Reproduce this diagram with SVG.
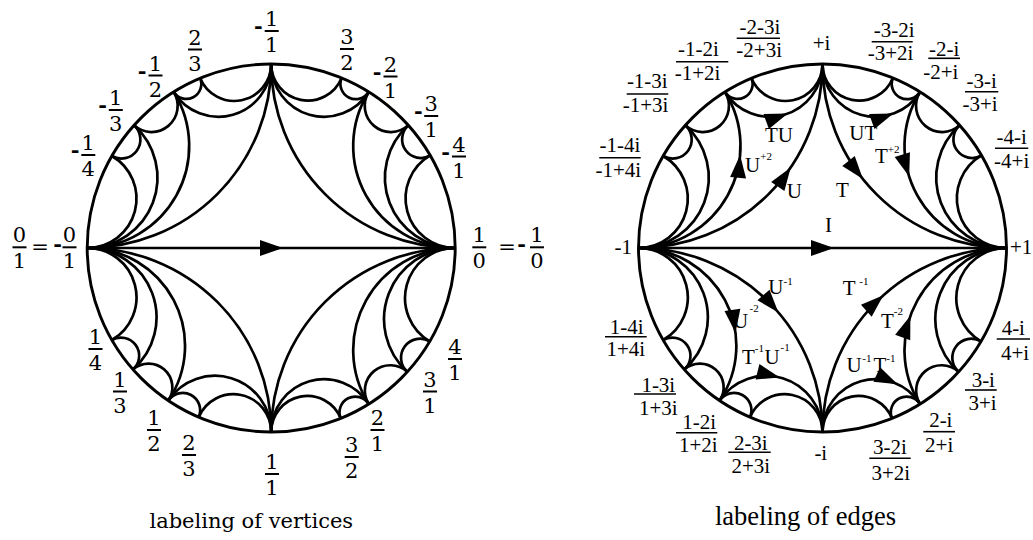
<svg xmlns="http://www.w3.org/2000/svg" xmlns:xlink="http://www.w3.org/1999/xlink" width="1033" height="540" viewBox="0 0 1033 540">
<style>
.e{fill:none;stroke:#000;stroke-width:2.7}
.c{fill:none;stroke:#000;stroke-width:2.9}
.fb{stroke:#000;stroke-width:2}
.rb{stroke:#000;stroke-width:1.6}
.L{font-family:"DejaVu Serif",serif;font-size:21px;text-anchor:middle;fill:#000}
.R{font-family:"Liberation Serif","Times New Roman",serif;font-size:21px;text-anchor:middle;fill:#000}
.Rs{font-family:"Liberation Serif","Times New Roman",serif;font-size:21px;fill:#000}
.s{font-size:11px}
.m{font-weight:bold}
</style>
<defs>
<path id="ah" d="M0,0 L-23,-8 L-23,8 Z" fill="#000"/>
<g id="tess" class="e">
<circle class="c" cx="0" cy="0" r="184"/>
<path d="M-184,0 H184"/>
<path d="M-184,0 A184,184 0 0 0 0,-184"/>
<path d="M0,-184 A184,184 0 0 0 184,0"/>
<path d="M-184,0 A101.99,101.99 0 0 0 -97.5,-156.04"/>
<path d="M-97.5,-156.04 A52.76,52.76 0 0 0 0,-184"/>
<path d="M0,-184 A52.76,52.76 0 0 0 97.5,-156.04"/>
<path d="M97.5,-156.04 A101.99,101.99 0 0 0 184,0"/>
<path d="M-184,0 A70.26,70.26 0 0 0 -137.17,-122.64"/>
<path d="M-137.17,-122.64 A26.19,26.19 0 0 0 -97.5,-156.04"/>
<path d="M-97.5,-156.04 A14.97,14.97 0 0 0 -71.01,-169.74"/>
<path d="M-71.01,-169.74 A36.93,36.93 0 0 0 0,-184"/>
<path d="M0,-184 A36.6,36.6 0 0 0 70.41,-170"/>
<path d="M70.41,-170 A15.29,15.29 0 0 0 97.5,-156.04"/>
<path d="M97.5,-156.04 A26.19,26.19 0 0 0 137.17,-122.64"/>
<path d="M137.17,-122.64 A70.26,70.26 0 0 0 184,0"/>
<path d="M-184,0 A49.3,49.3 0 0 0 -159.35,-92"/>
<path d="M-159.35,-92 A19.01,19.01 0 0 0 -137.17,-122.64"/>
<path d="M137.17,-122.64 A18.69,18.69 0 0 0 159.03,-92.55"/>
<path d="M159.03,-92.55 A49.65,49.65 0 0 0 184,0"/>
<path d="M-184,0 A184,184 0 0 1 0,184"/>
<path d="M0,184 A184,184 0 0 1 184,0"/>
<path d="M-184,0 A97.83,97.83 0 0 1 -102.89,152.54"/>
<path d="M-102.89,152.54 A56.25,56.25 0 0 1 0,184"/>
<path d="M0,184 A52.76,52.76 0 0 1 97.5,156.04"/>
<path d="M97.5,156.04 A101.99,101.99 0 0 1 184,0"/>
<path d="M-184,0 A69.35,69.35 0 0 1 -138.24,121.44"/>
<path d="M-138.24,121.44 A23.74,23.74 0 0 1 -102.89,152.54"/>
<path d="M-102.89,152.54 A17.39,17.39 0 0 1 -72.48,169.11"/>
<path d="M-72.48,169.11 A37.77,37.77 0 0 1 0,184"/>
<path d="M0,184 A36.1,36.1 0 0 1 69.52,170.37"/>
<path d="M69.52,170.37 A15.77,15.77 0 0 1 97.5,156.04"/>
<path d="M97.5,156.04 A25.37,25.37 0 0 1 136.09,123.84"/>
<path d="M136.09,123.84 A71.2,71.2 0 0 1 184,0"/>
<path d="M-184,0 A49.3,49.3 0 0 1 -159.35,92"/>
<path d="M-159.35,92 A18.2,18.2 0 0 1 -138.24,121.44"/>
<path d="M136.09,123.84 A19.01,19.01 0 0 1 158.53,93.38"/>
<path d="M158.53,93.38 A50.16,50.16 0 0 1 184,0"/>
</g>
</defs>

<g id="connectors">
<g id="left-disk" transform="translate(271.2,248)">
<use xlink:href="#tess" href="#tess"/>
<use xlink:href="#ah" href="#ah" transform="translate(11.8,0)"/>
</g>
<g id="right-disk" transform="translate(822.5,248)">
<use xlink:href="#tess" href="#tess"/>
<use xlink:href="#ah" href="#ah" transform="translate(11.5,0)"/>
<use xlink:href="#ah" href="#ah" transform="translate(-31.8,-80.6) rotate(-55.8)"/>
<use xlink:href="#ah" href="#ah" transform="translate(40.4,-69) rotate(51.3)"/>
<use xlink:href="#ah" href="#ah" transform="translate(-82.4,-93.1) rotate(-85)"/>
<use xlink:href="#ah" href="#ah" transform="translate(-34.7,-134.4) rotate(-20)"/>
<use xlink:href="#ah" href="#ah" transform="translate(70.9,-134.4) rotate(-20)"/>
<use xlink:href="#ah" href="#ah" transform="translate(86.7,-71.5) rotate(72.6)"/>
<use xlink:href="#ah" href="#ah" transform="translate(-44.1,64.5) rotate(49.5)"/>
<use xlink:href="#ah" href="#ah" transform="translate(-87,84.7) rotate(82.3)"/>
<use xlink:href="#ah" href="#ah" transform="translate(-42.7,129.4) rotate(14)"/>
<use xlink:href="#ah" href="#ah" transform="translate(60.9,47.3) rotate(-42)"/>
<use xlink:href="#ah" href="#ah" transform="translate(87.9,67.8) rotate(-70.4)"/>
<use xlink:href="#ah" href="#ah" transform="translate(75.1,136.2) rotate(25)"/>
</g>
</g>

<g id="left-labels">
<g id="v-0"><text class="L" x="19.5" y="242.3">0</text><line class="fb" x1="12.5" y1="247.3" x2="26.5" y2="247.3"/><text class="L" x="19.5" y="268.3">1</text>
<text class="L" x="40" y="254">=</text><text class="L m" x="57.5" y="251.3">-</text>
<text class="L" x="69.5" y="242.3">0</text><line class="fb" x1="62.5" y1="247.3" x2="76.5" y2="247.3"/><text class="L" x="69.5" y="268.3">1</text></g>
<g id="v-inf"><text class="L" x="479.3" y="242.3">1</text><line class="fb" x1="472.3" y1="247.3" x2="486.3" y2="247.3"/><text class="L" x="479.3" y="268.3">0</text>
<text class="L" x="507" y="254">=</text><text class="L m" x="521.7" y="251.3">-</text>
<text class="L" x="537" y="242.3">1</text><line class="fb" x1="530" y1="247.3" x2="544" y2="247.3"/><text class="L" x="537" y="268.3">0</text></g>
<g id="v-m1-4"><text class="L m" x="75" y="157">-</text><text class="L" x="88.3" y="150">1</text><line class="fb" x1="81.3" y1="155" x2="95.3" y2="155"/><text class="L" x="88.3" y="176">4</text></g>
<g id="v-m1-3"><text class="L m" x="102.5" y="112">-</text><text class="L" x="115.8" y="105">1</text><line class="fb" x1="108.8" y1="110" x2="122.8" y2="110"/><text class="L" x="115.8" y="131">3</text></g>
<g id="v-m1-2"><text class="L m" x="142.2" y="77.5">-</text><text class="L" x="155.5" y="70.5">1</text><line class="fb" x1="148.5" y1="75.5" x2="162.5" y2="75.5"/><text class="L" x="155.5" y="96.5">2</text></g>
<g id="v-2-3"><text class="L" x="195" y="44.5">2</text><line class="fb" x1="188" y1="49.5" x2="202" y2="49.5"/><text class="L" x="195" y="70.5">3</text></g>
<g id="v-m1-1"><text class="L m" x="258.4" y="33">-</text><text class="L" x="271.7" y="26">1</text><line class="fb" x1="264.7" y1="31" x2="278.7" y2="31"/><text class="L" x="271.7" y="52">1</text></g>
<g id="v-3-2"><text class="L" x="347" y="44">3</text><line class="fb" x1="340" y1="49" x2="354" y2="49"/><text class="L" x="347" y="70">2</text></g>
<g id="v-m2-1"><text class="L m" x="377.2" y="78.5">-</text><text class="L" x="390.5" y="71.5">2</text><line class="fb" x1="383.5" y1="76.5" x2="397.5" y2="76.5"/><text class="L" x="390.5" y="97.5">1</text></g>
<g id="v-m3-1"><text class="L m" x="418.4" y="118">-</text><text class="L" x="431.2" y="111">3</text><line class="fb" x1="424.2" y1="116" x2="438.2" y2="116"/><text class="L" x="431.2" y="137">1</text></g>
<g id="v-m4-1"><text class="L m" x="445.7" y="158.5">-</text><text class="L" x="459" y="151.5">4</text><line class="fb" x1="452" y1="156.5" x2="466" y2="156.5"/><text class="L" x="459" y="177.5">1</text></g>
<g id="v-1-4"><text class="L" x="95.5" y="344">1</text><line class="fb" x1="88.5" y1="349" x2="102.5" y2="349"/><text class="L" x="95.5" y="370">4</text></g>
<g id="v-1-3"><text class="L" x="120" y="386.5">1</text><line class="fb" x1="113" y1="391.5" x2="127" y2="391.5"/><text class="L" x="120" y="412.5">3</text></g>
<g id="v-1-2"><text class="L" x="154" y="425">1</text><line class="fb" x1="147" y1="430" x2="161" y2="430"/><text class="L" x="154" y="451">2</text></g>
<g id="v-2-3b"><text class="L" x="189" y="450">2</text><line class="fb" x1="182" y1="455" x2="196" y2="455"/><text class="L" x="189" y="476">3</text></g>
<g id="v-1-1"><text class="L" x="272" y="469">1</text><line class="fb" x1="265" y1="474" x2="279" y2="474"/><text class="L" x="272" y="495">1</text></g>
<g id="v-3-2b"><text class="L" x="351.7" y="452">3</text><line class="fb" x1="344.7" y1="457" x2="358.7" y2="457"/><text class="L" x="351.7" y="478">2</text></g>
<g id="v-2-1"><text class="L" x="377.5" y="425">2</text><line class="fb" x1="370.5" y1="430" x2="384.5" y2="430"/><text class="L" x="377.5" y="451">1</text></g>
<g id="v-3-1"><text class="L" x="430" y="386.5">3</text><line class="fb" x1="423" y1="391.5" x2="437" y2="391.5"/><text class="L" x="430" y="412.5">1</text></g>
<g id="v-4-1"><text class="L" x="455" y="354">4</text><line class="fb" x1="448" y1="359" x2="462" y2="359"/><text class="L" x="455" y="380">1</text></g>
<text id="cap-left" class="L" x="251.3" y="528">labeling of vertices</text>
</g>

<g id="right-labels">
<g id="w-m1-4"><text class="R" x="620" y="152">-1-4i</text><line class="rb" x1="599.3" y1="157.7" x2="640.7" y2="157.7"/><text class="R" x="618.3" y="177">-1+4i</text></g>
<g id="w-m1-3"><text class="R" x="647.3" y="87.5">-1-3i</text><line class="rb" x1="626.7" y1="94" x2="668.3" y2="94"/><text class="R" x="645.5" y="112">-1+3i</text></g>
<g id="w-m1-2"><text class="R" x="698.5" y="56">-1-2i</text><line class="rb" x1="676" y1="61.7" x2="728.3" y2="61.7"/><text class="R" x="697.5" y="80">-1+2i</text></g>
<g id="w-m2-3"><text class="R" x="760" y="33.5">-2-3i</text><line class="rb" x1="736.7" y1="38.3" x2="780" y2="38.3"/><text class="R" x="759.2" y="57">-2+3i</text></g>
<text id="w-pi" class="R" x="821.5" y="50">+i</text>
<g id="w-m3-2"><text class="R" x="894.2" y="37">-3-2i</text><line class="rb" x1="871.7" y1="41.7" x2="912.7" y2="41.7"/><text class="R" x="890.5" y="60">-3+2i</text></g>
<g id="w-m2-1"><text class="R" x="944.2" y="55.5">-2-i</text><line class="rb" x1="928.3" y1="58.3" x2="960" y2="58.3"/><text class="R" x="940.8" y="78.5">-2+i</text></g>
<g id="w-m3-1"><text class="R" x="981.7" y="88">-3-i</text><line class="rb" x1="965" y1="91.7" x2="998.3" y2="91.7"/><text class="R" x="980" y="110.8">-3+i</text></g>
<g id="w-m4-1"><text class="R" x="1011.7" y="143.5">-4-i</text><line class="rb" x1="995" y1="148.3" x2="1028.3" y2="148.3"/><text class="R" x="1011.7" y="168">-4+i</text></g>
<text id="w-m1" class="R" x="632" y="253.5" style="text-anchor:end">-1</text>
<text id="w-p1" class="Rs" x="1010" y="253.5">+1</text>
<g id="w-1-4"><text class="R" x="626.7" y="333.5">1-4i</text><line class="rb" x1="605" y1="336.7" x2="646.7" y2="336.7"/><text class="R" x="625.8" y="356">1+4i</text></g>
<g id="w-1-3"><text class="R" x="658.3" y="392">1-3i</text><line class="rb" x1="634" y1="394" x2="676" y2="394"/><text class="R" x="658.3" y="415">1+3i</text></g>
<g id="w-1-2"><text class="R" x="699.2" y="428.5">1-2i</text><line class="rb" x1="676" y1="432.7" x2="717.3" y2="432.7"/><text class="R" x="698.3" y="451.5">1+2i</text></g>
<g id="w-2-3"><text class="R" x="750.8" y="450">2-3i</text><line class="rb" x1="728.3" y1="452.3" x2="770.7" y2="452.3"/><text class="R" x="750.8" y="473">2+3i</text></g>
<text id="w-mi" class="R" x="820.8" y="460">-i</text>
<g id="w-3-2"><text class="R" x="890" y="453.5">3-2i</text><line class="rb" x1="869.3" y1="458.3" x2="910.7" y2="458.3"/><text class="R" x="890.8" y="480">3+2i</text></g>
<g id="w-2-1"><text class="R" x="940.8" y="426.5">2-i</text><line class="rb" x1="923.3" y1="431.7" x2="955" y2="431.7"/><text class="R" x="939.2" y="451.5">2+i</text></g>
<g id="w-3-1"><text class="R" x="983.3" y="386.5">3-i</text><line class="rb" x1="965" y1="390" x2="996.7" y2="390"/><text class="R" x="982.5" y="410">3+i</text></g>
<g id="w-4-1"><text class="R" x="1013.3" y="335">4-i</text><line class="rb" x1="996.7" y1="339" x2="1030" y2="339"/><text class="R" x="1015" y="360">4+i</text></g>

<g id="edge-labels">
<text class="Rs" x="765" y="142">TU</text>
<text class="Rs" x="849.3" y="140">UT</text>
<text class="Rs" x="745" y="172">U<tspan class="s" dy="-12">+2</tspan></text>
<text class="Rs" x="875" y="163">T<tspan class="s" dy="-10">+2</tspan></text>
<text class="Rs" x="786.7" y="197.5">U</text>
<text class="Rs" x="836" y="197">T</text>
<text class="Rs" x="825" y="232">I</text>
<text class="Rs" x="768.3" y="293.5">U<tspan class="s" dy="-8.5">-1</tspan></text>
<text class="Rs" x="842.7" y="295">T<tspan class="s" x="859.3" dy="-10">-1</tspan></text>
<text class="Rs" x="733" y="327.5">U<tspan class="s" x="749.5" dy="-15.5">-2</tspan></text>
<text class="Rs" x="881" y="328">T<tspan class="s" dy="-13">-2</tspan></text>
<text class="Rs" x="742" y="363.5">T<tspan class="s" dy="-11.5">-1</tspan><tspan x="764.5" dy="11.5">U</tspan><tspan class="s" x="780.5" dy="-12.5">-1</tspan></text>
<text class="Rs" x="846.5" y="372">U<tspan class="s" x="862.3" dy="-10.3">-1</tspan><tspan x="873.5" dy="10.3">T</tspan><tspan class="s" dy="-10.3">-1</tspan></text>
</g>
<text id="cap-right" class="R" x="805.5" y="525" style="font-size:26.5px">labeling of edges</text>
</g>
</svg>
